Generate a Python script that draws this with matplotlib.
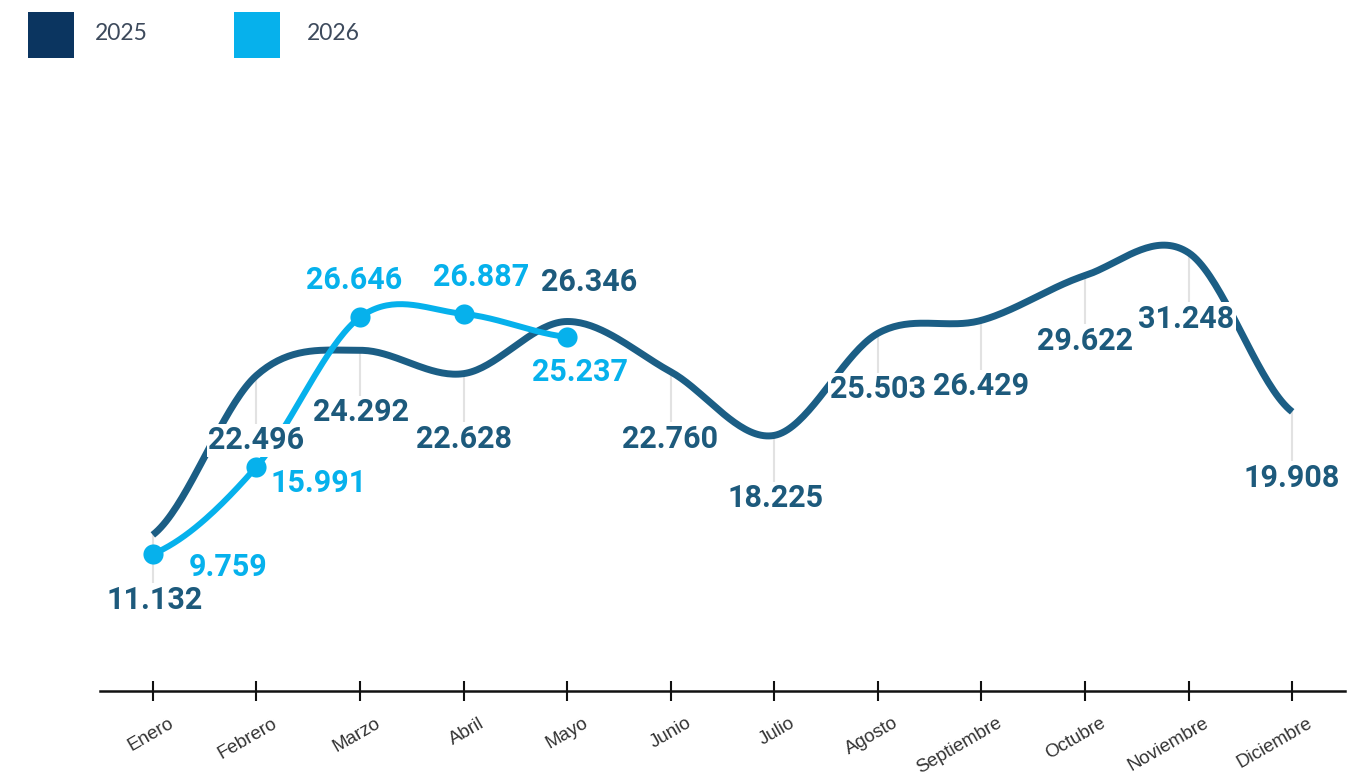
import matplotlib
matplotlib.use("Agg")
import matplotlib.pyplot as plt
import matplotlib.transforms as mtransforms
from matplotlib.patches import Rectangle
import numpy as np

# data
months = ['Enero', 'Febrero', 'Marzo', 'Abril', 'Mayo', 'Junio', 'Julio',
          'Agosto', 'Septiembre', 'Octubre', 'Noviembre', 'Diciembre']
values_2025 = [11.132, 22.496, 24.292, 22.628, 26.346, 22.760, 18.225,
               25.503, 26.429, 29.622, 31.248, 19.908]
values_2026 = [9.759, 15.991, 26.646, 26.887, 25.237]
labels_2025 = ['11.132', '22.496', '24.292', '22.628', '26.346', '22.760', '18.225',
               '25.503', '26.429', '29.622', '31.248', '19.908']
labels_2026 = ['9.759', '15.991', '26.646', '26.887', '25.237']

# label offsets in pixels (dx, dy)
offsets_2025 = [(2, -65), (0, -65), (1, -62), (0, -65), (22, 39), (-1, -67),
                (1, -63), (0, -56), (0, -66), (0, -65), (-2, -66), (0, -66)]
offsets_2026 = [(75, -13), (62, -16), (-6, 37), (18, 37), (13, -35)]

C25_LINE = '#1b5e85'
C25_TEXT = '#1d5a7c'
C25_LEG = '#0b3560'
C26 = '#06b1ec'


def cardinal(y, n=40):
    """Uniform Catmull-Rom smoothing through the points (for drawing only)."""
    y = np.asarray(y, dtype=float)
    x = np.arange(len(y), dtype=float)
    m = np.empty_like(y)
    m[1:-1] = (y[2:] - y[:-2]) / 2
    m[0] = (y[1] - y[0]) / 2
    m[-1] = (y[-1] - y[-2]) / 2
    xs, ys = [], []
    t = np.linspace(0, 1, n)
    h00 = 2 * t**3 - 3 * t**2 + 1
    h10 = t**3 - 2 * t**2 + t
    h01 = -2 * t**3 + 3 * t**2
    h11 = t**3 - t**2
    for i in range(len(y) - 1):
        xs.append(x[i] + t)
        ys.append(h00 * y[i] + h10 * m[i] + h01 * y[i + 1] + h11 * m[i + 1])
    return np.concatenate(xs), np.concatenate(ys)


fig = plt.figure(figsize=(13.48, 7.77), dpi=100)
ax = fig.add_axes([100 / 1348, 86 / 777, 1245 / 1348, 561 / 777])
ax.set_xlim(-0.51, 11.51)
ax.set_ylim(0, 40)

x25 = np.arange(len(values_2025))
x26 = np.arange(len(values_2026))

# leader lines from points down to the labels
px_per_unit = 561 / 40
for xi, v, (dx, dy) in zip(x25, values_2025, offsets_2025):
    if dy < 0:
        ax.plot([xi, xi], [v, v + dy / px_per_unit], color='#e2e2e2', lw=1.5, zorder=1)

sx, sy = cardinal(values_2025)
ax.plot(sx, sy, color=C25_LINE, lw=5, solid_capstyle='butt', zorder=2)
sx, sy = cardinal(values_2026)
ax.plot(sx, sy, color=C26, lw=4.3, solid_capstyle='butt', zorder=3)
ax.plot(x26, values_2026, 'o', color=C26, ms=14.5, mec='none', zorder=4)

for xi, v, lab, (dx, dy) in zip(x25, values_2025, labels_2025, offsets_2025):
    ax.annotate(lab, (xi, v), xytext=(dx, dy), textcoords='offset pixels',
                ha='center', va='center', fontsize=22, fontweight='bold',
                family='Roboto', color=C25_TEXT, zorder=6,
                bbox=dict(boxstyle='square,pad=0.05', fc='white', ec='none'))
for xi, v, lab, (dx, dy) in zip(x26, values_2026, labels_2026, offsets_2026):
    ax.annotate(lab, (xi, v), xytext=(dx, dy), textcoords='offset pixels',
                ha='center', va='center', fontsize=22, fontweight='bold',
                family='Roboto', color=C26, zorder=6,
                bbox=dict(boxstyle='square,pad=0.05', fc='white', ec='none'))

# axes styling
for s in ['top', 'right', 'left']:
    ax.spines[s].set_visible(False)
ax.spines['bottom'].set_linewidth(1.8)
ax.spines['bottom'].set_color('#111111')
ax.set_yticks([])
ax.set_xticks(x25)
ax.set_xticklabels(months, rotation=30, ha='right', va='top',
                   rotation_mode='anchor', fontsize=13.5, family='Liberation Sans',
                   color='#333333')
ax.tick_params(axis='x', direction='inout', length=14, width=1.5,
               color='#111111', pad=10)
shift = mtransforms.ScaledTranslation(0.15, 0, fig.dpi_scale_trans)
for lab in ax.get_xticklabels():
    lab.set_transform(lab.get_transform() + shift)

# legend
for x0, tx, col, txt in [(28, 95, C25_LEG, '2025'), (234, 307, C26, '2026')]:
    fig.add_artist(Rectangle((x0 / 1348, (777 - 58) / 777), 46 / 1348, 46 / 777,
                             transform=fig.transFigure, color=col, lw=0))
    fig.text(tx / 1348, (777 - 34) / 777, txt, fontsize=16.5, family='Lato',
             color='#3d4a5c', va='center', ha='left')

fig.savefig('out.png', dpi=100)
